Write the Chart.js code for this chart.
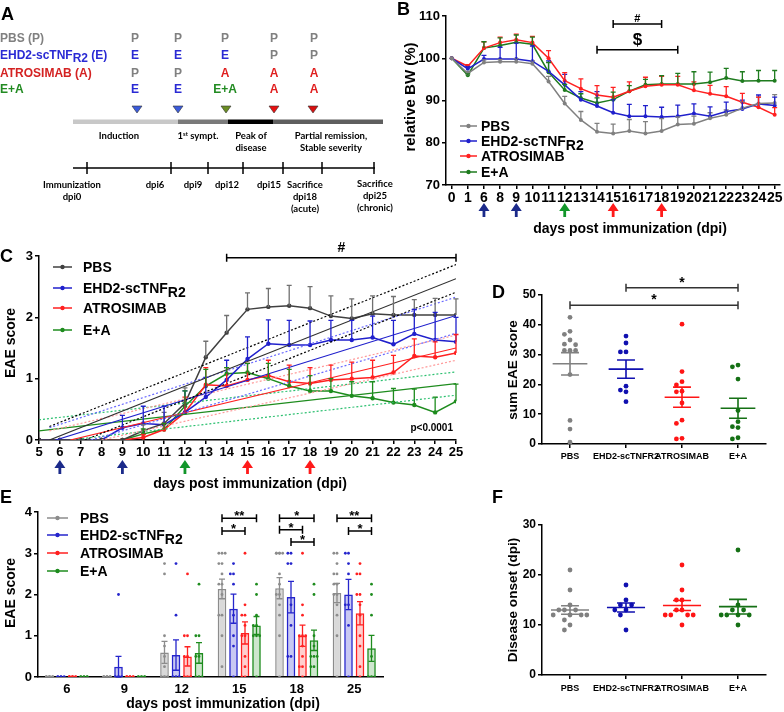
<!DOCTYPE html>
<html><head><meta charset="utf-8">
<script src="https://cdn.jsdelivr.net/npm/chart.js@4.4.1/dist/chart.umd.min.js"></script>
<style>
html,body{margin:0;padding:0;background:#fff}
#wrap{position:relative;width:784px;height:712px;overflow:hidden}
canvas{position:absolute}
#ov{position:absolute;left:0;top:0;z-index:2;font-family:'Liberation Sans',Arial,sans-serif;font-weight:bold}
</style></head><body>
<div id="wrap">
<canvas id="cB" width="404" height="245" style="left:380px;top:0"></canvas>
<canvas id="cC" width="470" height="260" style="left:0;top:240px"></canvas>
<canvas id="cD" width="314" height="200" style="left:470px;top:270px"></canvas>
<canvas id="cE" width="400" height="217" style="left:0;top:495px"></canvas>
<canvas id="cE2" width="400" height="217" style="left:0;top:495px"></canvas>
<canvas id="cF" width="314" height="212" style="left:470px;top:500px"></canvas>
<svg id="ov" width="784" height="712"></svg>
</div>
<script>
const groups = ['PBS', 'EHD2-scTNFR2', 'ATROSIMAB', 'E+A'];

// A: treatment schedule
const schedule = [
  ['P', 'P', 'P', 'P', 'P'],
  ['E', 'E', 'E', 'P', 'P'],
  ['P', 'P', 'A', 'A', 'A'],
  ['E', 'E', 'E+A', 'A', 'A']
];
const timelineLabels = ['dpi6', 'dpi9', 'dpi12', 'dpi15'];

// B: relative body weight
const bwDays = [0, 1, 6, 8, 9, 10, 11, 12, 13, 14, 15, 16, 17, 18, 19, 20, 21, 22, 23, 24, 25];
const bwPBS = [100, 96.4, 99.0, 99.2, 99.2, 98.7, 94.5, 89.3, 85.4, 82.6, 82.2, 82.8, 82.2, 82.8, 84.3, 84.5, 85.8, 86.6, 88.2, 89.3, 89.4];
const bwPBSErr = [0, 0.5, 0.6, 0.5, 0.7, 0.7, 1.2, 1.7, 2.0, 2.0, 2.2, 2.7, 2.8, 2.9, 1.8, 1.8, 1.3, 1.2, 1.5, 1.5, 2.0];
const bwEHD = [100, 97.5, 99.8, 99.8, 99.8, 99.3, 96.9, 93.7, 90.2, 88.7, 87.1, 86.3, 86.3, 86.1, 86.3, 86.9, 86.3, 87.4, 88.0, 89.2, 88.8];
const bwEHDErr = [0, 0.6, 0.9, 2.8, 3.8, 3.6, 2.5, 2.5, 1.9, 3.4, 3.1, 2.8, 2.5, 2.3, 2.6, 2.3, 2.2, 2.2, 2.1, 2.1, 2.0];
const bwATRO = [100, 98.1, 102.4, 103.7, 104.4, 103.7, 100.0, 94.7, 92.8, 91.3, 90.8, 92.2, 93.4, 93.7, 93.7, 92.4, 91.6, 91.0, 89.6, 88.4, 86.6];
const bwATROErr = [0, 0.4, 1.5, 1.3, 1.3, 1.5, 1.8, 1.9, 2.3, 2.2, 2.3, 2.2, 2.1, 2.0, 2.0, 2.0, 2.0, 2.3, 2.1, 2.4, 1.7];
const bwEA = [100, 96.0, 102.4, 103.0, 103.8, 103.3, 96.7, 92.5, 90.6, 89.4, 90.2, 92.2, 93.7, 93.9, 93.9, 93.9, 94.3, 95.3, 94.6, 94.7, 94.7];
const bwEAErr = [0, 0.3, 1.5, 1.8, 1.7, 1.7, 2.3, 1.3, 1.0, 1.2, 1.8, 1.3, 1.3, 2.0, 2.5, 2.9, 2.4, 2.3, 2.2, 2.4, 2.4];
const sigBHash = [[15, 18, 108.1, '#']];
const sigBDollar = [[14, 19, 102.0, '$']];

// C: EAE score time course
const eaeDays = [5, 6, 7, 8, 9, 10, 11, 12, 13, 14, 15, 16, 17, 18, 19, 20, 21, 22, 23, 24, 25];
const eaePBS = [0, 0, 0, 0, 0, 0.15, 0.27, 0.6, 1.35, 1.75, 2.13, 2.17, 2.19, 2.15, 2.02, 1.98, 2.06, 2.04, 2.04, 2.04, 2.04];
const eaePBSErr = [0, 0, 0, 0, 0, 0.1, 0.18, 0.25, 0.26, 0.28, 0.27, 0.3, 0.33, 0.35, 0.33, 0.32, 0.29, 0.3, 0.25, 0.27, 0.26];
const eaeEHD = [0, 0, 0, 0, 0.2, 0.27, 0.25, 0.45, 0.7, 0.98, 1.32, 1.57, 1.55, 1.55, 1.63, 1.63, 1.67, 1.56, 1.73, 1.63, 1.6];
const eaeEHDErr = [0, 0, 0, 0, 0.2, 0.28, 0.3, 0.35, 0.32, 0.32, 0.36, 0.39, 0.4, 0.39, 0.32, 0.32, 0.35, 0.39, 0.4, 0.45, 0.4];
const eaeATRO = [0, 0, 0, 0, 0, 0.04, 0.17, 0.45, 0.9, 0.88, 0.98, 1.05, 0.95, 0.92, 0.98, 1.0, 1.02, 1.1, 1.37, 1.35, 1.42];
const eaeATROErr = [0, 0, 0, 0, 0, 0.05, 0.1, 0.25, 0.28, 0.3, 0.27, 0.25, 0.27, 0.26, 0.24, 0.27, 0.28, 0.28, 0.28, 0.25, 0.3];
const eaeEA = [0, 0, 0, 0, 0, 0.1, 0.17, 0.55, 0.88, 1.08, 1.1, 1.0, 0.88, 0.8, 0.8, 0.72, 0.68, 0.61, 0.57, 0.45, 0.63];
const eaeEAErr = [0, 0, 0, 0, 0, 0.08, 0.1, 0.25, 0.27, 0.1, 0.15, 0.25, 0.27, 0.25, 0.2, 0.23, 0.27, 0.23, 0.26, 0.25, 0.28];
// regression fits and 95% bands, read as end points [day, score]
const fitPBS = [[5.5, 0], [25, 2.63]], fitPBSHi = [[5.5, 0.22], [25, 2.86]], fitPBSLo = [[7.2, 0], [25, 2.41]];
const fitEHD = [[5.8, 0], [25, 2.03]], fitEHDHi = [[5.5, 0.2], [25, 2.33]], fitEHDLo = [[7.5, 0], [25, 1.74]];
const fitATRO = [[6.5, 0], [25, 1.5]], fitATROHi = [[5.5, 0.15], [25, 1.71]], fitATROLo = [[8, 0], [25, 1.3]];
const fitEA = [[5, 0.15], [25, 0.92]], fitEAHi = [[5, 0.33], [25, 1.11]], fitEALo = [[6.5, 0], [25, 0.73]];
const sigC = [[14, 25, 2.97, '#']];
const pValueC = 'p<0.0001';

// D: sum EAE score per animal
const sumPBS = [42.5, 37.8, 36.8, 34.9, 33.5, 33.3, 31.4, 31.4, 31.4, 23.3, 7.9, 5.0, 0.6];
const sumEHD = [36.2, 33.9, 30.9, 30.9, 19.4, 18.1, 17.5, 14.2];
const sumATRO = [40.2, 24.3, 20.9, 19.8, 17.7, 17.5, 13.8, 8.0, 6.9, 1.9, 1.7];
const sumEA = [26.5, 25.9, 21.8, 11.2, 7.5, 5.8, 5.5, 2.1, 1.7];
const sigD = [[0, 3, 46.6, '*'], [1, 3, 52.4, '*']];

// E: EAE score per animal at selected days
const scoreDays = ['6', '9', '12', '15', '18', '25'];
const scorePBS = [
  [0, 0, 0, 0, 0, 0, 0, 0, 0, 0, 0, 0, 0],
  [0, 0, 0, 0, 0, 0, 0, 0, 0, 0, 0, 0, 0],
  [2.75, 2.5, 1, 0.75, 0.5, 0.25, 0, 0, 0, 0, 0, 0, 0],
  [3, 3, 3, 2.75, 2.75, 2.5, 2.25, 2.25, 2, 1.5, 1.5, 1, 0.25],
  [3, 3, 3, 3, 3, 2.5, 2.25, 2, 2, 1.75, 1.5, 1, 0],
  [3, 3, 2.75, 2.5, 2.5, 2.25, 2.25, 2, 2, 1.75, 1.5, 1, 0]
];
const scoreEHD = [
  [0, 0, 0, 0, 0, 0, 0, 0],
  [2, 0, 0, 0, 0, 0, 0, 0],
  [2.75, 1.5, 0, 0, 0, 0, 0, 0],
  [2.75, 2.5, 2.5, 2.25, 1.5, 1, 0.75, 0],
  [3, 3, 2.75, 2.75, 1.75, 1.25, 0.5, 0.5],
  [3, 3, 2.75, 2.5, 1.75, 1.75, 1.25, 0]
];
const scoreATRO = [
  [0, 0, 0, 0, 0, 0, 0, 0, 0, 0, 0],
  [0, 0, 0, 0, 0, 0, 0, 0, 0, 0, 0],
  [2.5, 1, 1, 0.5, 0.5, 0, 0, 0, 0, 0, 0],
  [3, 1.75, 1.5, 1.5, 1.25, 1, 1, 0.5, 0.25, 0, 0],
  [3, 1.75, 1.5, 1, 1, 1, 0.75, 0.5, 0.25, 0.25, 0],
  [2.75, 2.5, 2.5, 2, 2, 1.75, 1.5, 1, 0.75, 0.25, 0]
];
const scoreEA = [
  [0, 0, 0, 0, 0, 0, 0, 0, 0],
  [0, 0, 0, 0, 0, 0, 0, 0, 0],
  [2.25, 1, 1, 0.5, 0.5, 0, 0, 0, 0],
  [2.25, 2, 1.5, 1.25, 1.25, 1, 1, 1, 0],
  [2.25, 2, 1, 0.75, 0.5, 0.5, 0.5, 0.25, 0.25],
  [2.25, 2, 1.5, 0.5, 0, 0, 0, 0, 0]
];
const sigE = [[3, 0, 3, 3.85, '**'], [3, 0, 2, 3.54, '*'], [4, 0, 3, 3.85, '*'], [4, 0, 2, 3.57, '*'],
  [4, 1, 3, 3.27, '*'], [5, 0, 3, 3.85, '**'], [5, 1, 3, 3.54, '*']];

// F: disease onset (dpi)
const onsetPBS = [21, 17, 14, 13, 13, 13, 12, 12, 12, 12, 11, 10, 9];
const onsetEHD = [18, 15, 14, 14, 13, 13, 12, 9];
const onsetATRO = [22, 17, 15, 15, 13, 13, 12, 12, 12, 12, 10];
const onsetEA = [25, 14, 13, 13, 12, 12, 12, 12, 10];

const arrowDays = [6, 9, 12, 15, 18];
const arrowColors = ['#1b2a8a', '#1b2a8a', '#12962a', '#ff1a1a', '#ff1a1a'];

Chart.defaults.font.family = "'Liberation Sans', Arial, sans-serif";
Chart.defaults.font.weight = 'bold';
Chart.defaults.color = '#000';
Chart.defaults.animation = false;
Chart.defaults.plugins.legend.display = false;
Chart.defaults.plugins.tooltip.enabled = false;

const mean = a => a.reduce((s, v) => s + v, 0) / a.length;
const sem = a => { const m = mean(a); return Math.sqrt(a.reduce((s, v) => s + (v - m) ** 2, 0) / (a.length - 1) / a.length); };

function mkScale(size, fs, pad, extra, tickExtra) {
  const s = {
    border: {color: '#000', width: 1.5},
    grid: {drawOnChartArea: false, tickLength: 4, color: '#000', lineWidth: 1.5},
    ticks: Object.assign({color: '#000', font: {size: fs, weight: 'bold'}, padding: pad, autoSkip: false, maxRotation: 0}, tickExtra || {})
  };
  Object.assign(s, extra || {});
  s.afterFit = sc => { if (sc.isHorizontal()) sc.height = size; else sc.width = size; };
  return s;
}
// an invisible axis that still takes the given room, for overlay charts
function ghostScale(size, extra) {
  return Object.assign({
    border: {display: false}, grid: {display: false}, ticks: {display: false},
    afterFit: sc => { if (sc.isHorizontal()) sc.height = size; else sc.width = size; }
  }, extra);
}

// simple beeswarm: offsets (in steps) for values closer than thr
function swarm(vals, thr, maxK) {
  const cand = [0, -1, 1, -2, 2, -3, 3, -4, 4].filter(k => Math.abs(k) <= maxK);
  const placed = [], ks = [];
  vals.map((v, i) => i).sort((a, b) => vals[b] - vals[a]).forEach(i => {
    const near = placed.filter(p => Math.abs(p.v - vals[i]) < thr);
    let k = cand.find(c => !near.some(p => p.k === c));
    if (k === undefined) k = cand[near.length % cand.length];
    ks[i] = k; placed.push({v: vals[i], k});
  });
  return ks;
}

function arrowsPlugin(xOf, tipY) {
  return {id: 'arrows', afterDraw(chart) {
    const ctx = chart.ctx, sx = chart.scales.x;
    ctx.save();
    arrowDays.forEach((d, i) => {
      const x = sx.getPixelForValue(xOf(d)), y = tipY;
      ctx.fillStyle = arrowColors[i];
      ctx.beginPath();
      ctx.moveTo(x, y); ctx.lineTo(x + 5.5, y + 8); ctx.lineTo(x + 1.4, y + 8); ctx.lineTo(x + 1.4, y + 14);
      ctx.lineTo(x - 1.4, y + 14); ctx.lineTo(x - 1.4, y + 8); ctx.lineTo(x - 5.5, y + 8);
      ctx.closePath(); ctx.fill();
    });
    ctx.restore();
  }};
}

function errPlugin(cap) {
  return {id: 'err', afterDatasetsDraw(chart) {
    const ctx = chart.ctx, sy = chart.scales.y;
    chart.data.datasets.forEach((ds, di) => {
      if (!ds.errs) return;
      const meta = chart.getDatasetMeta(di);
      ctx.save();
      ctx.strokeStyle = ds.errColor || ds.borderColor;
      ctx.lineWidth = 1.3;
      meta.data.forEach((el, i) => {
        const e = ds.errs[i];
        if (!e) return;
        const raw = ds.data[i], v = typeof raw === 'number' ? raw : raw.y;
        const top = sy.getPixelForValue(v + e), bot = sy.getPixelForValue(ds.errBoth ? v - e : v);
        ctx.beginPath();
        ctx.moveTo(el.x, bot); ctx.lineTo(el.x, top);
        ctx.moveTo(el.x - cap, top); ctx.lineTo(el.x + cap, top);
        if (ds.errBoth) { ctx.moveTo(el.x - cap, bot); ctx.lineTo(el.x + cap, bot); }
        ctx.stroke();
      });
      ctx.restore();
    });
  }};
}

function sigPlugin(id, items, px, fs, dy, color) {
  return {id, afterDraw(chart) {
    const ctx = chart.ctx, sy = chart.scales.y;
    ctx.save();
    ctx.strokeStyle = color; ctx.fillStyle = '#000'; ctx.lineWidth = 1.5;
    ctx.font = `bold ${fs}px 'Liberation Sans', Arial`;
    ctx.textAlign = 'center'; ctx.textBaseline = 'alphabetic';
    items.forEach(it => {
      const [xa, xb] = px(chart, it), y = sy.getPixelForValue(it[it.length - 2]);
      ctx.beginPath();
      ctx.moveTo(xa, y); ctx.lineTo(xb, y);
      ctx.moveTo(xa, y - 4); ctx.lineTo(xa, y + 4);
      ctx.moveTo(xb, y - 4); ctx.lineTo(xb, y + 4);
      ctx.stroke();
      ctx.fillText(it[it.length - 1], (xa + xb) / 2, y + dy);
    });
    ctx.restore();
  }};
}

function meanSemPlugin(half, capHalf) {
  return {id: 'meansem', afterDatasetsDraw(chart) {
    const ctx = chart.ctx, sx = chart.scales.x, sy = chart.scales.y;
    chart.data.datasets.forEach((ds, g) => {
      const vals = ds.data.map(p => p.y), m = mean(vals), s = sem(vals), c = g + 0.5;
      ctx.save();
      ctx.strokeStyle = ds.backgroundColor; ctx.lineWidth = 1.6;
      ctx.beginPath();
      ctx.moveTo(sx.getPixelForValue(c - half), sy.getPixelForValue(m));
      ctx.lineTo(sx.getPixelForValue(c + half), sy.getPixelForValue(m));
      [m - s, m + s].forEach(v => {
        ctx.moveTo(sx.getPixelForValue(c - capHalf), sy.getPixelForValue(v));
        ctx.lineTo(sx.getPixelForValue(c + capHalf), sy.getPixelForValue(v));
      });
      ctx.moveTo(sx.getPixelForValue(c), sy.getPixelForValue(m - s));
      ctx.lineTo(sx.getPixelForValue(c), sy.getPixelForValue(m + s));
      ctx.stroke();
      ctx.restore();
    });
  }};
}

// ---------- B
const colB = ['#808080', '#2020cc', '#ff2020', '#1e7b1e'];
const bwSets = [bwPBS, bwEHD, bwATRO, bwEA], bwErrs = [bwPBSErr, bwEHDErr, bwATROErr, bwEAErr];
const bwIdx = d => bwDays.indexOf(d);
new Chart(document.getElementById('cB'), {
  type: 'line',
  data: {datasets: bwSets.map((arr, g) => ({
    data: arr.map((v, i) => ({x: i, y: v})), errs: bwErrs[g],
    borderColor: colB[g], backgroundColor: colB[g], borderWidth: 1.5, pointRadius: 2, pointBorderWidth: 0
  }))},
  options: {
    responsive: false,
    layout: {padding: {left: 0, top: 16, right: 2, bottom: 0}},
    scales: {
      x: mkScale(60, 14, 1, {type: 'linear', min: -0.35, max: 20.33,
        afterBuildTicks: s => { s.ticks = bwDays.map((d, i) => ({value: i})); }},
        {callback: v => bwDays[v]}),
      y: mkScale(66, 13, 2, {min: 70, max: 110}, {stepSize: 10})
    }
  },
  plugins: [errPlugin(2.5), arrowsPlugin(bwIdx, 203),
    sigPlugin('sigb1', sigBHash, (c, it) => [c.scales.x.getPixelForValue(bwIdx(it[0])), c.scales.x.getPixelForValue(bwIdx(it[1]))], 11, -2.5, '#000'),
    sigPlugin('sigb2', sigBDollar, (c, it) => [c.scales.x.getPixelForValue(bwIdx(it[0])), c.scales.x.getPixelForValue(bwIdx(it[1]))], 17, -4.5, '#000')]
});

// ---------- C
const colC = ['#404040', '#2020cc', '#ff2020', '#1e8c1e'];
const errColC = ['#707070', '#2020cc', '#ff2020', '#1e8c1e'];
const fitSets = [[fitPBS, '#303030', []], [fitPBSHi, '#000', [2, 2]], [fitPBSLo, '#000', [2, 2]],
  [fitEHD, '#2020cc', []], [fitEHDHi, '#6a6aff', [2, 2]], [fitEHDLo, '#6a6aff', [2, 2]],
  [fitATRO, '#ff2020', []], [fitATROHi, '#ff9a9a', [2, 2]], [fitATROLo, '#ff9a9a', [2, 2]],
  [fitEA, '#1e8c1e', []], [fitEAHi, '#2cc070', [2, 2]], [fitEALo, '#2cc070', [2, 2]]];
const eaeSets = [eaePBS, eaeEHD, eaeATRO, eaeEA], eaeErrs = [eaePBSErr, eaeEHDErr, eaeATROErr, eaeEAErr];
new Chart(document.getElementById('cC'), {
  type: 'line',
  data: {datasets: fitSets.map(([pts, col, dash]) => ({
    data: pts.map(p => ({x: p[0], y: p[1]})), borderColor: col, borderWidth: 1.2, borderDash: dash, pointRadius: 0
  })).concat(eaeSets.map((arr, g) => ({
    data: arr.map((v, i) => ({x: eaeDays[i], y: v})), errs: eaeErrs[g], errColor: errColC[g],
    borderColor: colC[g], backgroundColor: colC[g], borderWidth: 1.5, pointRadius: 2.2, pointBorderWidth: 0
  })))},
  options: {
    responsive: false,
    layout: {padding: {left: 0, top: 16, right: 14, bottom: 0}},
    scales: {
      x: mkScale(60, 13, 1, {type: 'linear', min: 5, max: 25}, {stepSize: 1}),
      y: mkScale(39, 13, 2, {min: 0, max: 3}, {stepSize: 1})
    }
  },
  plugins: [errPlugin(2.5), arrowsPlugin(d => d, 220),
    sigPlugin('sigc', sigC, (c, it) => [c.scales.x.getPixelForValue(it[0]), c.scales.x.getPixelForValue(it[1])], 14, -6, '#000')]
});

// ---------- D and F dot plots
const colD = ['#808080', '#1010b0', '#ff1515', '#157015'];
function dotChart(id, sets, thr, yMax, xh, xpad, half, sig) {
  const plugins = [meanSemPlugin(half, 0.16)];
  if (sig) plugins.push(sigPlugin('sig' + id, sig, (c, it) => [c.scales.x.getPixelForValue(it[0] + 0.5), c.scales.x.getPixelForValue(it[1] + 0.5)], 14, -1, '#333'));
  return new Chart(document.getElementById(id), {
    type: 'scatter',
    data: {datasets: sets.map((vals, g) => {
      const ks = swarm(vals, thr, 3);
      return {data: vals.map((v, j) => ({x: g + 0.5 + ks[j] * 0.1, y: v})),
        backgroundColor: colD[g], borderColor: colD[g], pointRadius: 2.4, pointBorderWidth: 0};
    })},
    options: {
      responsive: false,
      layout: {padding: {left: 0, top: 25, right: 18, bottom: 0}},
      scales: {
        x: mkScale(xh, 9, xpad, {type: 'linear', min: 0, max: 4,
          afterBuildTicks: s => { s.ticks = groups.map((n, i) => ({value: i + 0.5})); }},
          {callback: v => groups[Math.floor(v)]}),
        y: mkScale(72, 12, 2, {min: 0, max: yMax}, {stepSize: 10})
      }
    },
    plugins
  });
}
dotChart('cD', [sumPBS, sumEHD, sumATRO, sumEA], 1.8, 50, 26, 3, 0.31, sigD);
dotChart('cF', [onsetPBS, onsetEHD, onsetATRO, onsetEA], 1.1, 30, 37, 4, 0.34, null);

// ---------- E: bars with SEM, plus the per-animal dots on a matching overlay chart
const colE = ['#8c8c8c', '#2525cc', '#ff2020', '#1e8c1e'];
const fillE = ['#d9d9d9', 'rgba(37,37,204,0.25)', 'rgba(255,32,32,0.22)', 'rgba(30,140,30,0.22)'];
const scoreSets = [scorePBS, scoreEHD, scoreATRO, scoreEA];
const layoutE = {padding: {left: 0, top: 17, right: 17, bottom: 0}};
new Chart(document.getElementById('cE'), {
  type: 'bar',
  data: {
    labels: scoreDays,
    datasets: scoreSets.map((set, g) => ({
      data: set.map(mean), errs: set.map(sem), errBoth: true,
      backgroundColor: fillE[g], borderColor: colE[g], borderWidth: 1.5,
      categoryPercentage: 0.8, barPercentage: 0.75
    }))
  },
  options: {
    responsive: false,
    layout: layoutE,
    scales: {
      x: mkScale(35, 13, 5, {type: 'category', grid: {drawOnChartArea: false, drawTicks: false}}),
      y: mkScale(38, 13, 2, {min: 0, max: 4}, {stepSize: 1})
    }
  },
  plugins: [errPlugin(3),
    sigPlugin('sige', sigE, (c, it) => [c.getDatasetMeta(it[1]).data[it[0]].x, c.getDatasetMeta(it[2]).data[it[0]].x], 13, 2, '#000')]
});
new Chart(document.getElementById('cE2'), {
  type: 'scatter',
  data: {datasets: scoreSets.map((set, g) => ({
    data: set.flatMap((vals, i) => { const ks = swarm(vals, 0.1, 1); return vals.map((v, j) => ({x: i + (g - 1.5) * 0.2 + ks[j] * 0.055, y: v})); }),
    backgroundColor: colE[g], pointRadius: 1.4, pointBorderWidth: 0
  }))},
  options: {
    responsive: false,
    layout: layoutE,
    scales: {
      x: ghostScale(35, {type: 'linear', min: -0.5, max: 5.5}),
      y: ghostScale(38, {min: 0, max: 4})
    }
  }
});

// ---------- overlay text: panel A, panel letters, legends, axis titles
const ov = [];
const esc = s => s.replace(/&/g, '&amp;').replace(/</g, '&lt;');
const nm = g => g === 1 ? 'EHD2-scTNF<tspan dy="4">R2</tspan>' : esc(groups[g]);
function txt(x, y, s, size, extra) { ov.push(`<text x="${x}" y="${y}" font-size="${size}" ${extra || ''}>${s}</text>`); }
function rot(cx, cy, s, size) { ov.push(`<text transform="translate(${cx},${cy}) rotate(-90)" x="0" y="${size * 0.36}" font-size="${size}" text-anchor="middle">${s}</text>`); }
function legend(x0, x1, tx, ys, cols, size) {
  ys.forEach((y, g) => {
    ov.push(`<line x1="${x0}" y1="${y}" x2="${x1}" y2="${y}" stroke="${cols[g]}" stroke-width="1.5"/>`);
    ov.push(`<circle cx="${(x0 + x1) / 2}" cy="${y}" r="2.2" fill="${cols[g]}"/>`);
    txt(tx, y + size * 0.36, nm(g), size);
  });
}

// panel A
const rowCol = ['#808080', '#2a2ad4', '#d42222', '#228b22'];
const letterCol = {P: '#808080', E: '#2a2ad4', A: '#e02020', 'E+A': '#228b22'};
const rowLabels = ['PBS (P)', 'EHD2-scTNF<tspan dy="3">R2</tspan><tspan dy="-3"> (E)</tspan>', 'ATROSIMAB (A)', 'E+A'];
const colX = [135, 178, 225, 274, 314], rowY = [42.3, 59.3, 77.3, 93.3];
rowLabels.forEach((l, r) => {
  txt(0, rowY[r], l, 12, `fill="${rowCol[r]}"`);
  schedule[r].forEach((c, k) => txt(colX[k], rowY[r], c, 12, `fill="${letterCol[c]}" text-anchor="middle"`));
});
const triX = [137, 178, 226, 274, 313], triCol = ['#3b5bdb', '#3b5bdb', '#6b8e23', '#e81010', '#d81010'];
triX.forEach((x, i) => ov.push(`<polygon points="${x - 5},106 ${x + 5},106 ${x},113" fill="${triCol[i]}" stroke="#333" stroke-width="0.6"/>`));
[[73, 178, '#c8c8c8'], [178, 228, '#7a7a7a'], [228, 273, '#000'], [273, 383, '#5f5f5f']].forEach(([a, b, c]) =>
  ov.push(`<rect x="${a}" y="119.5" width="${b - a}" height="4.5" fill="${c}"/>`));
const lato = `font-family="Lato, 'Open Sans', sans-serif" text-anchor="middle"`;
txt(119, 138.5, 'Induction', 9.5, lato);
txt(198, 138.5, '1<tspan baseline-shift="super" font-size="6">st</tspan> sympt.', 9.5, lato);
txt(251, 138.5, 'Peak of', 9.5, lato); txt(251, 150.5, 'disease', 9.5, lato);
txt(331, 138.5, 'Partial remission,', 9.5, lato); txt(331, 150.5, 'Stable severity', 9.5, lato);
ov.push(`<line x1="73" y1="168" x2="375" y2="168" stroke="#000" stroke-width="1.5"/>`);
[87, 171, 208, 243, 283, 322, 374].forEach(x => ov.push(`<line x1="${x}" y1="162" x2="${x}" y2="174" stroke="#000" stroke-width="1.5"/>`));
txt(72, 187.5, 'Immunization', 9.5, lato); txt(72, 199.5, 'dpi0', 9.5, lato);
[155, 193, 227, 269].forEach((x, i) => txt(x, 187.5, timelineLabels[i], 9.5, lato));
txt(305, 187.5, 'Sacrifice', 9.5, lato); txt(305, 199.5, 'dpi18', 9.5, lato); txt(305, 211.5, '(acute)', 9.5, lato);
txt(375, 186.5, 'Sacrifice', 9.5, lato); txt(375, 198.5, 'dpi25', 9.5, lato); txt(375, 210.5, '(chronic)', 9.5, lato);

// panel letters
[['A', 1, 20], ['B', 397, 15], ['C', 0, 262], ['D', 492, 298], ['E', 0, 503], ['F', 492, 503]].forEach(([s, x, y]) => txt(x, y, s, 18));

// legends
legend(460, 477, 481, [126, 141, 156, 172], colB, 14);
legend(53, 72, 83, [267, 288, 308, 330], colC, 14);
legend(47, 68, 80, [518, 535, 553, 571], colE, 14);

// axis titles and notes
txt(630, 233, 'days post immunization (dpi)', 14, 'text-anchor="middle"');
rot(410, 97, 'relative BW (%)', 15);
txt(250, 488, 'days post immunization (dpi)', 14, 'text-anchor="middle"');
rot(10, 343, 'EAE score', 14);
txt(453, 431, esc(pValueC), 10, 'text-anchor="end"');
rot(512, 370, 'sum EAE score', 13.6);
txt(223, 708, 'days post immunization (dpi)', 14, 'text-anchor="middle"');
rot(10, 593, 'EAE score', 14);
rot(512, 600, 'Disease onset (dpi)', 13.6);
document.getElementById('ov').innerHTML = ov.join('');
</script>
</body></html>
